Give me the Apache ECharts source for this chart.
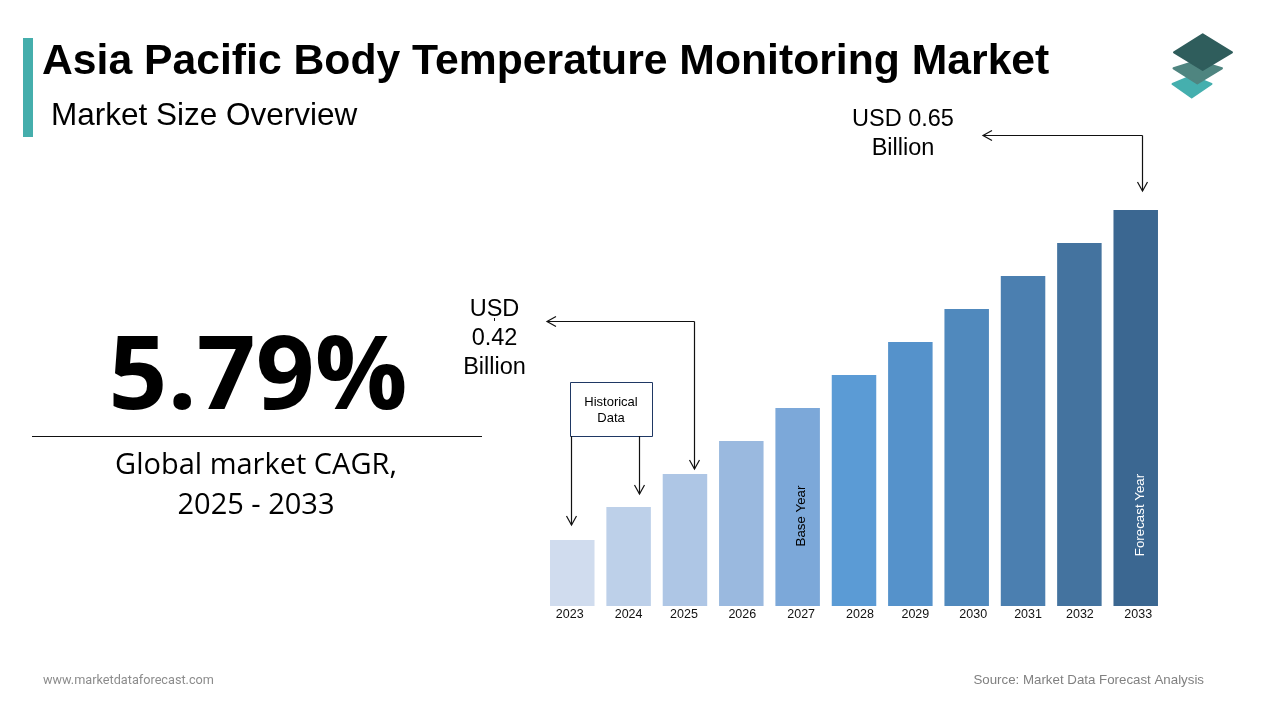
<!DOCTYPE html>
<html>
<head>
<meta charset="utf-8">
<title>Asia Pacific Body Temperature Monitoring Market</title>
<script src="https://cdn.jsdelivr.net/npm/echarts@6/dist/echarts.min.js"></script>
<style>
  html, body { margin: 0; padding: 0; background: #fff; }
  #chart { width: 1280px; height: 720px; }
</style>
</head>
<body>
<div id="chart"></div>
<script>
var years = ['2023', '2024', '2025', '2026', '2027', '2028', '2029', '2030', '2031', '2032', '2033'];
// bar heights as drawn in the picture (relative units, no value axis shown)
var barHeights = [2, 3, 4, 5, 6, 7, 8, 9, 10, 11, 12];
var barColors = ['#d0dcee', '#bdd0e9', '#aec6e5', '#9ab9df', '#7ca8d9', '#5b9bd5', '#5592cb', '#5089bd', '#4b7fb0', '#44739f', '#3b6791'];
// the year labels do not sit exactly under their bars in the original
var labelShift = [-2.5, 0, -1, 1, 3.5, 6, 5, 6.5, 5, 0.5, 2.5];

var ARIAL = '"Liberation Sans", Arial, sans-serif';
var OPEN = '"Open Sans", sans-serif';

function txt(x, y, text, size, opts) {
    opts = opts || {};
    return {
        type: 'text',
        x: x,
        y: y,
        rotation: opts.rotation || 0,
        style: {
            text: text,
            fill: opts.color || '#000',
            font: (opts.weight || 'normal') + ' ' + size + 'px ' + (opts.family || ARIAL),
            align: opts.align || 'left',
            verticalAlign: 'middle',
            lineHeight: opts.lineHeight
        }
    };
}

// open arrow: line through points, head at the last point
function arrow(points) {
    var a = points[points.length - 2], b = points[points.length - 1];
    var dx = b[0] - a[0], dy = b[1] - a[1];
    var len = Math.sqrt(dx * dx + dy * dy);
    dx /= len; dy /= len;
    var wing1 = [b[0] - dx * 9 - dy * 5, b[1] - dy * 9 + dx * 5];
    var wing2 = [b[0] - dx * 9 + dy * 5, b[1] - dy * 9 - dx * 5];
    var lineStyle = { stroke: '#111', lineWidth: 1.2, fill: null };
    return [
        { type: 'polyline', shape: { points: points }, style: lineStyle },
        { type: 'polyline', shape: { points: [wing1, b, wing2] }, style: lineStyle }
    ];
}

function diamond(pts, color) {
    return {
        type: 'polygon',
        shape: { points: pts },
        style: { fill: color, stroke: color, lineWidth: 2, lineJoin: 'round' }
    };
}

var graphics = [
    { type: 'rect', shape: { x: 23, y: 38, width: 10, height: 99 }, style: { fill: '#45aeac' } },
    txt(42, 62, 'Asia Pacific Body Temperature Monitoring Market', 42.7, { weight: 'bold' }),
    txt(51, 116, 'Market Size Overview', 31.5),

    // logo
    diamond([[1172.5, 84], [1191.7, 76], [1211.5, 84], [1191.7, 97.5]], '#45afae'),
    diamond([[1173.5, 68.3], [1197.3, 60.7], [1222, 68.3], [1197.3, 83.5]], '#4f8580'),
    diamond([[1174, 52.3], [1202.7, 34.3], [1232, 52.3], [1202.7, 70]], '#2f5d5c'),

    // CAGR block
    txt(258, 380, '5.79%', 103, { weight: 'bold', family: OPEN, align: 'center' }),
    { type: 'line', shape: { x1: 32, y1: 436.5, x2: 482, y2: 436.5 }, style: { stroke: '#111', lineWidth: 1 } },
    txt(256, 466, 'Global market CAGR,', 29, { family: OPEN, align: 'center' }),
    txt(256, 506, '2025 - 2033', 29, { family: OPEN, align: 'center' }),

    // value callouts
    txt(903, 134, 'USD 0.65\nBillion', 23.5, { align: 'center', lineHeight: 29 }),
    txt(494.5, 339, 'USD\n0.42\nBillion', 23.5, { align: 'center', lineHeight: 29 }),
    { type: 'line', shape: { x1: 494.5, y1: 318, x2: 494.5, y2: 321 }, style: { stroke: '#111', lineWidth: 1 } },

    // historical box
    { type: 'rect', shape: { x: 570.5, y: 382.5, width: 82, height: 54 }, style: { fill: '#fff', stroke: '#1f3864', lineWidth: 1 } },
    txt(611, 410, 'Historical\nData', 13, { align: 'center', lineHeight: 16 }),

    // rotated bar notes
    txt(801.5, 516, 'Base Year', 13.3, { align: 'center', rotation: Math.PI / 2 }),
    txt(1140.5, 515, 'Forecast Year', 13.3, { align: 'center', rotation: Math.PI / 2, color: '#fff' }),

    // footer
    txt(43, 680.5, 'www.marketdataforecast.com', 12.7, { color: '#8c8c8c', family: 'Roboto, sans-serif' }),
    txt(1204, 680, 'Source: Market Data Forecast Analysis', 13.3, { color: '#808080', align: 'right' })
];

graphics = graphics
    .concat(arrow([[1142.5, 135.5], [983, 135.5]]))
    .concat(arrow([[1142.5, 135.5], [1142.5, 191]]))
    .concat(arrow([[694.5, 321.5], [547, 321.5]]))
    .concat(arrow([[694.5, 321.5], [694.5, 469]]))
    .concat(arrow([[571.5, 436], [571.5, 525]]))
    .concat(arrow([[639.5, 436], [639.5, 494]]));

// one rich style per label, padding moves the centred text sideways
var labelRich = {};
labelShift.forEach(function (s, i) {
    labelRich['y' + i] = {
        color: '#111',
        fontFamily: ARIAL,
        fontSize: 12.5,
        padding: s > 0 ? [0, 0, 0, 2 * s] : [0, -2 * s, 0, 0]
    };
});

var chart = echarts.init(document.getElementById('chart'));
var option = {
    animation: false,
    backgroundColor: '#fff',
    grid: { left: 544.1, width: 619.8, top: 210, height: 396 },
    xAxis: {
        type: 'category',
        data: years,
        axisLine: { show: false },
        axisTick: { show: false },
        axisLabel: {
            margin: 2,
            interval: 0,
            rich: labelRich,
            formatter: function (value, index) {
                return '{y' + index + '|' + value + '}';
            }
        }
    },
    yAxis: { type: 'value', min: 0, max: 12, show: false },
    series: [
        {
            type: 'bar',
            barWidth: 44.5,
            z: 1,
            data: barHeights.map(function (v, i) {
                return { value: v, itemStyle: { color: barColors[i] } };
            })
        }
    ],
    graphic: { elements: graphics.map(function (g) { g.z = 10; return g; }) }
};
chart.setOption(option);
</script>
</body>
</html>
